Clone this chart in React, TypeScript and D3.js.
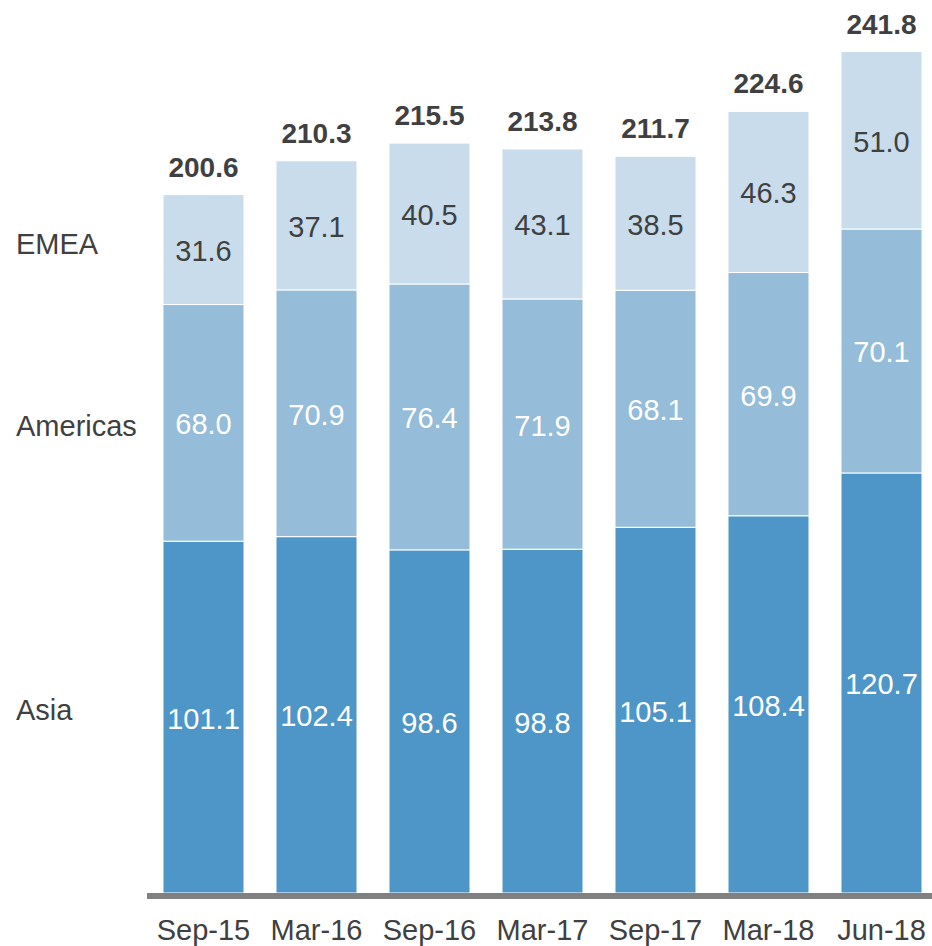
import React from "react";
import * as d3 from "d3";

const categories = ["Sep-15", "Mar-16", "Sep-16", "Mar-17", "Sep-17", "Mar-18", "Jun-18"];
const asia = [101.1, 102.4, 98.6, 98.8, 105.1, 108.4, 120.7];
const americas = [68.0, 70.9, 76.4, 71.9, 68.1, 69.9, 70.1];
const emea = [31.6, 37.1, 40.5, 43.1, 38.5, 46.3, 51.0];
const totals = [200.6, 210.3, 215.5, 213.8, 211.7, 224.6, 241.8];
const seriesNames = ["Asia", "Americas", "EMEA"];

const colors: Record<string, string> = { Asia: "#4f96c8", Americas: "#95bcd9", EMEA: "#c9dcec" };
const labelColors: Record<string, string> = { Asia: "#ffffff", Americas: "#ffffff", EMEA: "#404040" };

export default function App() {
  const W = 932, H = 946;
  const baseY = 893;
  const rows = categories.map((c, i) => ({ cat: c, Asia: asia[i], Americas: americas[i], EMEA: emea[i] }));
  const stack = d3.stack<any>().keys(seriesNames)(rows);
  const x = d3.scaleBand<string>().domain(categories).range([147, 938]).paddingInner(0.283).paddingOuter(0.1415);
  const y = d3.scaleLinear().domain([0, 241.8]).range([baseY, baseY - 241.8 * 3.48]);
  const font = "Liberation Sans, Arial, sans-serif";
  const legendY: Record<string, number> = { EMEA: 254, Americas: 436, Asia: 720 };
  return (
    <svg width={W} height={H} style={{ position: "absolute", left: 0, top: 0 }} fontFamily={font}>
      {stack.map((s) => (
        <g key={s.key}>
          {s.map((d, i) => {
            const x0 = x(categories[i])!;
            const y0 = y(d[1]);
            const y1 = y(d[0]);
            const v = d[1] - d[0];
            return (
              <g key={i}>
                <rect x={x0} y={y0} width={x.bandwidth()} height={y1 - y0} fill={colors[s.key]} stroke="#ffffff" strokeWidth={1} />
                <text x={x0 + x.bandwidth() / 2} y={(y0 + y1) / 2 + 1} dy="0.36em" textAnchor="middle" fontSize={29} fill={labelColors[s.key]}>
                  {v.toFixed(1)}
                </text>
              </g>
            );
          })}
        </g>
      ))}
      {totals.map((t, i) => (
        <text key={i} x={x(categories[i])! + x.bandwidth() / 2} y={y(t) - 18} textAnchor="middle" fontSize={28} fontWeight="bold" fill="#404040">
          {t.toFixed(1)}
        </text>
      ))}
      <line x1={147} x2={932} y1={baseY + 3} y2={baseY + 3} stroke="#808080" strokeWidth={6} />
      {categories.map((c) => (
        <text key={c} x={x(c)! + x.bandwidth() / 2} y={940} textAnchor="middle" fontSize={29} fill="#404040">
          {c}
        </text>
      ))}
      {seriesNames.map((n) => (
        <text key={n} x={16} y={legendY[n]} fontSize={29} fill="#404040">
          {n}
        </text>
      ))}
    </svg>
  );
}
